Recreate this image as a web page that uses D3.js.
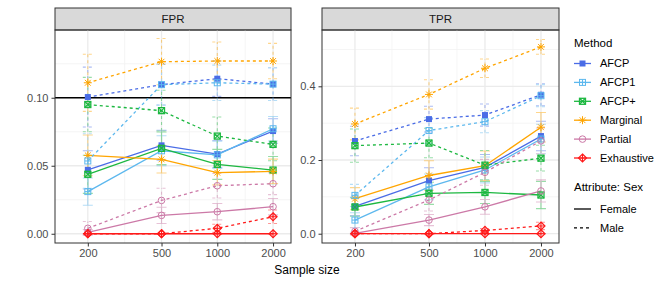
<!DOCTYPE html>
<html>
<head>
<meta charset="utf-8">
<script src="https://cdn.jsdelivr.net/npm/d3@7"></script>
<style>
  body { margin: 0; background: #fff; }
  svg { font-family: "Liberation Sans", Arial, sans-serif; }
</style>
</head>
<body>
<div id="chart"></div>
<script>
// data
const sizes = [200, 500, 1000, 2000];
const methods = ["AFCP", "AFCP1", "AFCP+", "Marginal", "Partial", "Exhaustive"];
const colors = ["#4A6CE6", "#5DB8EE", "#1DB841", "#FFA500", "#CC79A7", "#FF1A1A"];
const shapes = ["square", "squarePlus", "squareCross", "asterisk", "circle", "diamondPlus"];

// rows follow method order
const fprFemale = [
  [0.047, 0.065, 0.0586, 0.0755],
  [0.031, 0.061, 0.058, 0.0772],
  [0.0437, 0.0628, 0.051, 0.0468],
  [0.0576, 0.0547, 0.0449, 0.0459],
  [0.001, 0.0135, 0.0162, 0.0199],
  [0, 0, 0, 0]
];
const fprMale = [
  [0.1005, 0.1096, 0.114, 0.110],
  [0.0535, 0.1096, 0.111, 0.110],
  [0.095, 0.0905, 0.0718, 0.0657],
  [0.111, 0.1265, 0.127, 0.127],
  [0.004, 0.0245, 0.0353, 0.0368],
  [0, 0, 0.004, 0.0125]
];
const tprFemale = [
  [0.074, 0.144, 0.180, 0.265],
  [0.037, 0.127, 0.173, 0.257],
  [0.0725, 0.1096, 0.112, 0.105],
  [0.095, 0.158, 0.1846, 0.289],
  [0.001, 0.037, 0.073, 0.116],
  [0, 0, 0, 0]
];
const tprMale = [
  [0.2516, 0.311, 0.322, 0.377],
  [0.104, 0.280, 0.304, 0.3745],
  [0.239, 0.246, 0.186, 0.205],
  [0.2977, 0.378, 0.449, 0.507],
  [0.0065, 0.0915, 0.1666, 0.252],
  [0, 0, 0.009, 0.021]
];

// error bar half-widths
const fprFemaleErr = [
  [0.014, 0.011, 0.010, 0.009],
  [0.010, 0.011, 0.010, 0.009],
  [0.014, 0.012, 0.011, 0.010],
  [0.015, 0.010, 0.009, 0.009],
  [0.002, 0.006, 0.006, 0.006],
  [0, 0, 0, 0]
];
const fprMaleErr = [
  [0.022, 0.015, 0.013, 0.012],
  [0.020, 0.015, 0.013, 0.012],
  [0.020, 0.015, 0.014, 0.012],
  [0.021, 0.017, 0.014, 0.013],
  [0.005, 0.009, 0.009, 0.008],
  [0, 0, 0.003, 0.005]
];
const tprFemaleErr = [
  [0.025, 0.035, 0.035, 0.040],
  [0.020, 0.035, 0.035, 0.040],
  [0.025, 0.030, 0.030, 0.037],
  [0.030, 0.040, 0.040, 0.040],
  [0.003, 0.015, 0.020, 0.030],
  [0, 0, 0, 0]
];
const tprMaleErr = [
  [0.040, 0.035, 0.030, 0.030],
  [0.030, 0.035, 0.030, 0.030],
  [0.045, 0.040, 0.040, 0.035],
  [0.043, 0.040, 0.025, 0.020],
  [0.010, 0.030, 0.035, 0.035],
  [0, 0, 0.005, 0.010]
];

const fprTicks = [0.00, 0.05, 0.10];
const tprTicks = [0.0, 0.2, 0.4];

const width = 664, height = 285;
const svg = d3.select("#chart").append("svg")
  .attr("width", width).attr("height", height);

const panelTop = 30, panelBottom = 243, stripTop = 8;

const panels = [
  { name: "FPR", left: 55, right: 291, domain: [-0.0068, 0.1498], ticks: fprTicks, minor: [0.025, 0.075, 0.125],
    fmt: d3.format(".2f"), female: fprFemale, male: fprMale, femaleErr: fprFemaleErr, maleErr: fprMaleErr, hline: 0.1 },
  { name: "TPR", left: 322, right: 559, domain: [-0.0252, 0.5528], ticks: tprTicks, minor: [0.1, 0.3, 0.5],
    fmt: d3.format(".1f"), female: tprFemale, male: tprMale, femaleErr: tprFemaleErr, maleErr: tprMaleErr, hline: null }
];

// symbol drawer
function drawShape(g, shape, cx, cy, color) {
  const s = 3;
  if (shape == "square") {
    g.append("rect").attr("x", cx - s).attr("y", cy - s).attr("width", 2 * s).attr("height", 2 * s)
      .attr("fill", color);
  } else if (shape == "squarePlus") {
    g.append("rect").attr("x", cx - s).attr("y", cy - s).attr("width", 2 * s).attr("height", 2 * s)
      .attr("fill", "none").attr("stroke", color).attr("stroke-width", 1);
    g.append("path").attr("d", `M${cx - s},${cy}H${cx + s}M${cx},${cy - s}V${cy + s}`)
      .attr("stroke", color).attr("stroke-width", 1);
  } else if (shape == "squareCross") {
    g.append("rect").attr("x", cx - s).attr("y", cy - s).attr("width", 2 * s).attr("height", 2 * s)
      .attr("fill", "none").attr("stroke", color).attr("stroke-width", 1.3);
    g.append("path").attr("d", `M${cx - s},${cy - s}L${cx + s},${cy + s}M${cx - s},${cy + s}L${cx + s},${cy - s}`)
      .attr("stroke", color).attr("stroke-width", 1.3);
  } else if (shape == "asterisk") {
    const r = 4, q = 2.9;
    g.append("path").attr("d", `M${cx - r},${cy}H${cx + r}M${cx},${cy - r}V${cy + r}M${cx - q},${cy - q}L${cx + q},${cy + q}M${cx - q},${cy + q}L${cx + q},${cy - q}`)
      .attr("stroke", color).attr("stroke-width", 1);
  } else if (shape == "circle") {
    g.append("circle").attr("cx", cx).attr("cy", cy).attr("r", 3.3)
      .attr("fill", "none").attr("stroke", color).attr("stroke-width", 1);
  } else if (shape == "diamondPlus") {
    const r = 4;
    g.append("path").attr("d", `M${cx},${cy - r}L${cx + r},${cy}L${cx},${cy + r}L${cx - r},${cy}Z`)
      .attr("fill", "none").attr("stroke", color).attr("stroke-width", 1.2);
    g.append("path").attr("d", `M${cx - r},${cy}H${cx + r}M${cx},${cy - r}V${cy + r}`)
      .attr("stroke", color).attr("stroke-width", 1);
  }
}

const dashFor = sex => sex == "male" ? "3,3" : null;

panels.forEach(p => {
  const x = d3.scaleLog().domain([133, 2500]).range([p.left, p.right]);
  const y = d3.scaleLinear().domain(p.domain).range([panelBottom, panelTop]);

  // strip
  svg.append("rect").attr("x", p.left).attr("y", stripTop)
    .attr("width", p.right - p.left).attr("height", panelTop - stripTop)
    .attr("fill", "#D9D9D9").attr("stroke", "#333333").attr("stroke-width", 1);
  svg.append("text").attr("x", (p.left + p.right) / 2).attr("y", (stripTop + panelTop) / 2)
    .attr("dy", "0.35em").attr("text-anchor", "middle")
    .attr("font-size", 11.5).attr("fill", "#1A1A1A").text(p.name);

  // grid: minor then major
  const g = svg.append("g");
  const minorX = [];
  for (let i = 0; i < sizes.length - 1; i++) minorX.push(Math.sqrt(sizes[i] * sizes[i + 1]));
  minorX.forEach(v => g.append("line").attr("x1", x(v)).attr("x2", x(v))
    .attr("y1", panelTop).attr("y2", panelBottom).attr("stroke", "#F2F2F2").attr("stroke-width", 0.8));
  p.minor.forEach(v => g.append("line").attr("x1", p.left).attr("x2", p.right)
    .attr("y1", y(v)).attr("y2", y(v)).attr("stroke", "#F2F2F2").attr("stroke-width", 0.8));
  sizes.forEach(v => g.append("line").attr("x1", x(v)).attr("x2", x(v))
    .attr("y1", panelTop).attr("y2", panelBottom).attr("stroke", "#EBEBEB").attr("stroke-width", 1.3));
  p.ticks.forEach(v => g.append("line").attr("x1", p.left).attr("x2", p.right)
    .attr("y1", y(v)).attr("y2", y(v)).attr("stroke", "#EBEBEB").attr("stroke-width", 1.3));

  if (p.hline != null) {
    g.append("line").attr("x1", p.left).attr("x2", p.right)
      .attr("y1", y(p.hline)).attr("y2", y(p.hline))
      .attr("stroke", "#000").attr("stroke-width", 1.3);
  }

  // error bars
  const eb = svg.append("g").attr("opacity", 0.45);
  ["female", "male"].forEach(sex => {
    const vals = p[sex], errs = p[sex + "Err"];
    methods.forEach((m, mi) => {
      sizes.forEach((s, si) => {
        const v = vals[mi][si], e = errs[mi][si];
        const cx = x(s), y0 = y(v - e), y1 = y(v + e);
        eb.append("path")
          .attr("d", `M${cx},${y0}V${y1}M${cx - 5},${y0}H${cx + 5}M${cx - 5},${y1}H${cx + 5}`)
          .attr("fill", "none").attr("stroke", colors[mi]).attr("stroke-width", 1.1)
          .attr("stroke-dasharray", dashFor(sex));
      });
    });
  });

  // lines
  const line = d3.line().x(d => x(d[0])).y(d => y(d[1]));
  ["female", "male"].forEach(sex => {
    methods.forEach((m, mi) => {
      svg.append("path")
        .datum(sizes.map((s, si) => [s, p[sex][mi][si]]))
        .attr("d", line)
        .attr("fill", "none").attr("stroke", colors[mi]).attr("stroke-width", 1.3)
        .attr("stroke-dasharray", dashFor(sex));
    });
  });

  // points
  const pg = svg.append("g");
  ["female", "male"].forEach(sex => {
    methods.forEach((m, mi) => {
      sizes.forEach((s, si) => drawShape(pg, shapes[mi], x(s), y(p[sex][mi][si]), colors[mi]));
    });
  });

  // panel border
  svg.append("rect").attr("x", p.left).attr("y", panelTop)
    .attr("width", p.right - p.left).attr("height", panelBottom - panelTop)
    .attr("fill", "none").attr("stroke", "#333333").attr("stroke-width", 1);

  // axes
  const xAxis = svg.append("g").attr("transform", `translate(0,${panelBottom})`)
    .call(d3.axisBottom(x).tickValues(sizes).tickFormat(d3.format("d")).tickSize(3.5).tickPadding(3).tickSizeOuter(0));
  const yAxis = svg.append("g").attr("transform", `translate(${p.left},0)`)
    .call(d3.axisLeft(y).tickValues(p.ticks).tickFormat(p.fmt).tickSize(3.5).tickPadding(3).tickSizeOuter(0));
  [xAxis, yAxis].forEach(a => {
    a.select(".domain").remove();
    a.selectAll(".tick line").attr("stroke", "#333333");
    a.selectAll(".tick text").attr("fill", "#4D4D4D").attr("font-size", 11)
      .attr("font-family", "Liberation Sans, Arial, sans-serif");
  });
});

// x-axis title
svg.append("text").attr("x", 307).attr("y", 274).attr("text-anchor", "middle")
  .attr("font-size", 12).attr("fill", "#000").text("Sample size");

// legend
const lg = svg.append("g").attr("font-size", 11.5);
lg.append("text").attr("x", 574).attr("y", 47).attr("fill", "#000").text("Method");
methods.forEach((m, mi) => {
  const ly = 63.5 + mi * 18.9;
  lg.append("line").attr("x1", 574).attr("x2", 591).attr("y1", ly).attr("y2", ly)
    .attr("stroke", colors[mi]).attr("stroke-width", 1.3);
  drawShape(lg, shapes[mi], 582.5, ly, colors[mi]);
  lg.append("text").attr("x", 600).attr("y", ly).attr("dy", "0.35em").attr("fill", "#000")
    .attr("font-size", 11).text(m);
});
lg.append("text").attr("x", 574).attr("y", 191).attr("fill", "#000").text("Attribute: Sex");
["Female", "Male"].forEach((s, i) => {
  const ly = 209 + i * 18.9;
  lg.append("line").attr("x1", 574).attr("x2", 591).attr("y1", ly).attr("y2", ly)
    .attr("stroke", "#000").attr("stroke-width", 1.3)
    .attr("stroke-dasharray", i == 1 ? "3,3" : null);
  lg.append("text").attr("x", 600).attr("y", ly).attr("dy", "0.35em").attr("fill", "#000")
    .attr("font-size", 11).text(s);
});
</script>
</body>
</html>
